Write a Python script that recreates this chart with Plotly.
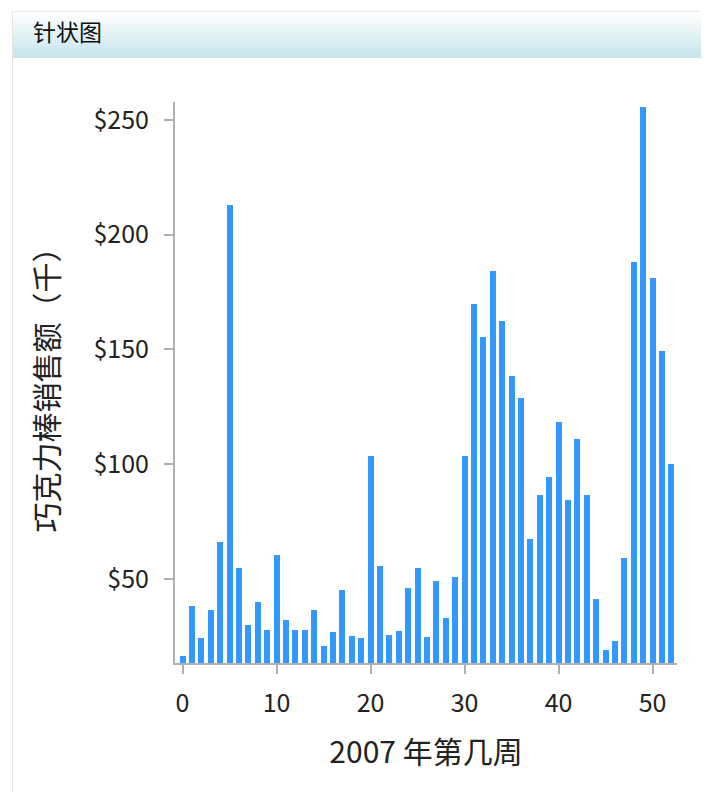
import plotly.graph_objects as go

weeks = list(range(53))
sales = [16.2, 38.0, 24.1, 36.3, 65.9, 213.1, 54.5, 30.0, 39.7, 27.6,
         60.3, 31.9, 27.7, 27.7, 36.3, 20.6, 26.7, 45.3, 24.9, 24.2,
         103.7, 55.5, 25.5, 27.1, 45.8, 54.6, 24.7, 49.1, 33.1, 50.7,
         103.5, 169.8, 155.5, 184.1, 162.4, 138.5, 128.7, 67.3, 86.4, 94.4,
         118.4, 84.3, 111.1, 86.7, 41.4, 19.0, 22.9, 59.2, 188.0, 255.7,
         181.3, 149.4, 100.0]
y_ticks = [50, 100, 150, 200, 250]
y_tick_labels = ["$50", "$100", "$150", "$200", "$250"]
x_ticks = [0, 10, 20, 30, 40, 50]

title_text = "针状图"
x_title = "2007 年第几周"
y_title = "巧克力棒销售额（千）"

OFF = 8  # page body margin
W, H = 709 - OFF, 792 - OFF
L, T = 175 - OFF, 102 - OFF
R = W - (677 - OFF)
B = H - (663 - OFF)
PW, PH = W - L - R, H - T - B

def px(x):  # window pixel -> paper
    return (x - OFF - L) / PW

def py(y):
    return (H - B - (y - OFF)) / PH

FONT = "Noto Sans CJK SC"

fig = go.Figure(go.Bar(
    x=weeks, y=sales, width=0.64,
    marker=dict(color="#3399ff", line=dict(width=0)),
))

shapes = []
top, bot = 12, 57
n = 15
for i in range(n):
    t = i / (n - 1)
    r = int(255 + (200 - 255) * t)
    g = int(255 + (230 - 255) * t)
    b = int(255 + (236 - 255) * t)
    y0 = top + (bot - top) * i / n
    y1 = top + (bot - top) * (i + 1) / n
    shapes.append(dict(type="rect", xref="paper", yref="paper",
                       x0=px(13), x1=px(712), y0=py(y1), y1=py(y0),
                       fillcolor=f"rgb({r},{g},{b})", line=dict(width=0),
                       layer="below"))
shapes.append(dict(type="line", xref="paper", yref="paper",
                   x0=px(13), x1=px(712), y0=py(57.5), y1=py(57.5),
                   line=dict(color="#c4e2e8", width=1)))
shapes.append(dict(type="line", xref="paper", yref="paper",
                   x0=px(12), x1=px(712), y0=py(11.5), y1=py(11.5),
                   line=dict(color="#efe6e8", width=1)))
shapes.append(dict(type="line", xref="paper", yref="paper",
                   x0=px(12.5), x1=px(12.5), y0=py(11.5), y1=py(800),
                   line=dict(color="#e6e6e6", width=1)))

fig.update_layout(
    width=W, height=H,
    margin=dict(l=L, r=R, t=T, b=B, autoexpand=False),
    paper_bgcolor="white", plot_bgcolor="white",
    showlegend=False,
    font=dict(family=FONT, color="#222222"),
    shapes=shapes,
    annotations=[dict(text=title_text, xref="paper", yref="paper",
                      x=px(31), y=py(31), xanchor="left", yanchor="middle",
                      showarrow=False, font=dict(size=23, color="#111111", family=FONT))],
    xaxis=dict(
        range=[-0.8, 52.6], tickvals=x_ticks,
        showline=True, linecolor="#b0b0b0", linewidth=2,
        ticks="outside", ticklen=9, tickwidth=2, tickcolor="#b0b0b0",
        showgrid=False, zeroline=False, ticklabelstandoff=8,
        tickfont=dict(size=25, color="#222222"),
        title=dict(text=x_title, font=dict(size=30, color="#222222"), standoff=24),
    ),
    yaxis=dict(
        range=[13.3, 257.8], tickvals=y_ticks, ticktext=y_tick_labels,
        showline=True, linecolor="#b0b0b0", linewidth=2,
        ticks="outside", ticklen=9, tickwidth=2, tickcolor="#b0b0b0",
        showgrid=False, zeroline=False, ticklabelstandoff=10,
        tickfont=dict(size=25, color="#222222"),
        title=dict(text=y_title, font=dict(size=30, color="#222222"), standoff=26),
    ),
    bargap=0,
)

fig.write_html("out.html")
